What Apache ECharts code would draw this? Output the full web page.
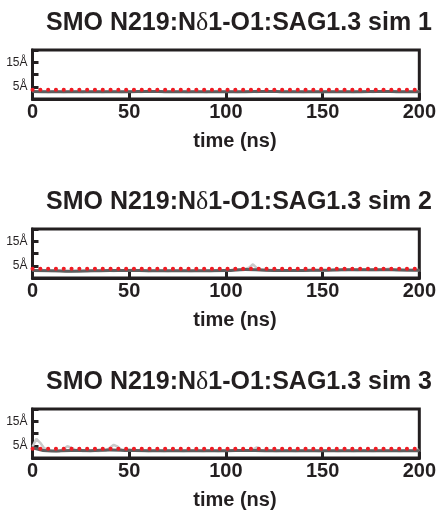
<!DOCTYPE html>
<html><head><meta charset="utf-8">
<script src="https://cdn.jsdelivr.net/npm/echarts@6/dist/echarts.min.js"></script>
<style>html,body{margin:0;padding:0;background:#fff}#c{width:439px;height:521px}</style>
</head><body><div id="c"></div>
<script>
const titles = ['sim 1', 'sim 2', 'sim 3'];
const xTicks = [0, 50, 100, 150, 200];
const yLabelTicks = [5, 15];
const threshold = 3.8;
const rawTime = [0,2,4,6,8,10,12,14,16,18,20,22,24,26,28,30,32,34,36,38,40,42,44,46,48,50,52,54,56,58,60,62,64,66,68,70,72,74,76,78,80,82,84,86,88,90,92,94,96,98,100,102,104,106,108,110,112,114,116,118,120,122,124,126,128,130,132,134,136,138,140,142,144,146,148,150,152,154,156,158,160,162,164,166,168,170,172,174,176,178,180,182,184,186,188,190,192,194,196,198,200];
const smoothTime = [0,10,20,30,40,50,60,70,80,90,100,110,120,130,140,150,160,170,180,190,200];
const sim1Raw = [3.3,3.1,3.0,3.1,2.9,3.0,3.1,3.0,2.9,3.0,
 3.1,3.0,3.0,2.9,3.1,3.0,3.0,3.1,2.9,3.0,
 3.0,3.1,3.0,2.9,3.0,3.1,3.0,3.0,2.9,3.0,
 3.1,3.0,3.0,3.1,2.9,3.0,3.0,3.1,3.0,3.0,
 2.9,3.0,3.1,3.0,3.0,2.9,3.1,3.0,3.0,3.0,
 3.0,3.1,3.0,2.9,3.0,3.1,3.0,3.0,2.9,3.0,
 3.1,3.0,3.0,3.1,2.9,3.0,3.0,3.1,3.0,3.0,
 2.9,3.0,3.1,3.0,3.0,2.9,3.1,3.0,3.0,3.0,
 3.0,3.1,3.0,2.9,3.0,3.1,3.0,3.0,2.9,3.0,
 3.1,3.0,3.0,3.1,2.9,3.0,3.0,3.1,3.0,3.0,
 3.2];
const sim1Smooth = [3.1,3.0,3.0,2.95,3.0,3.0,3.05,3.0,3.0,2.95,3.0,3.0,3.05,3.0,2.95,3.0,3.0,3.0,3.05,3.0,3.0];
const sim2Raw = [3.2,3.1,3.0,3.1,3.0,2.9,3.0,3.0,2.9,2.8,
 2.8,2.7,2.7,2.8,2.8,2.9,3.0,3.0,3.1,3.0,
 3.0,2.9,3.0,3.1,3.0,3.2,3.5,3.2,3.0,3.0,
 2.9,3.0,3.0,3.1,3.0,2.9,3.0,3.0,3.0,3.1,
 3.0,2.9,3.0,3.0,3.1,3.0,2.9,3.0,3.0,3.1,
 3.0,3.1,3.2,3.3,3.5,3.7,4.2,5.6,4.0,3.6,
 3.4,3.2,3.1,3.0,3.1,3.0,3.0,3.1,3.0,3.0,
 3.1,3.0,3.1,3.2,3.1,3.2,3.1,3.2,3.3,3.2,
 3.4,3.3,3.5,3.4,3.3,3.4,3.5,3.3,3.4,3.3,
 3.4,3.5,3.8,3.6,3.3,3.4,3.2,3.1,3.2,3.1,
 3.3];
const sim2Smooth = [3.1,3.0,2.8,2.95,3.05,3.1,3.0,3.0,3.0,3.0,3.05,3.5,3.15,3.05,3.1,3.15,3.35,3.4,3.4,3.3,3.2];
const sim3Raw = [4.6,7.8,6.2,4.0,3.3,3.0,2.8,2.8,3.6,4.8,
 4.2,3.4,3.0,2.9,3.0,3.1,3.0,2.9,3.0,3.1,
 4.2,5.4,4.6,3.4,3.2,3.6,3.3,3.0,3.1,3.0,
 2.9,3.0,3.1,3.0,2.9,3.0,3.0,3.1,3.0,2.9,
 3.0,3.1,3.0,3.0,2.9,3.0,3.1,3.0,2.9,3.0,
 3.0,3.1,3.0,3.2,3.1,3.0,3.2,3.4,4.4,3.2,
 3.0,3.1,3.0,2.9,3.0,3.0,3.1,3.0,2.9,3.0,
 3.0,3.1,3.0,3.0,2.9,3.0,3.1,3.0,3.0,2.9,
 3.0,3.1,3.0,2.9,3.0,3.0,3.1,3.0,2.9,3.0,
 3.1,3.0,3.0,3.2,3.0,2.9,3.0,3.1,3.0,3.0,
 3.4];
const sim3Smooth = [4.2,2.85,3.1,3.0,3.3,3.1,3.0,3.0,3.0,3.0,3.0,3.1,3.0,3.0,3.0,2.95,3.0,3.0,3.0,3.0,3.0];
const rawSets = [sim1Raw, sim2Raw, sim3Raw];
const smoothSets = [sim1Smooth, sim2Smooth, sim3Smooth];

const ink = '#231f20';
const tops = [50, 229, 409];
const gridH = 49;
const chart = echarts.init(document.getElementById('c'));
const pair = (t, v) => t.map((x, i) => [x, v[i]]);
const option = {
  animation: false,
  title: titles.map((s, i) => ({
    text: '{b|SMO N219:N}{d|δ}{b|1-O1:SAG1.3 ' + s + '}',
    right: 7, top: tops[i] - 40, padding: 0,
    textStyle: {rich: {
      b: {fontFamily: 'Liberation Sans', fontWeight: 'bold', fontSize: 25, color: ink},
      d: {fontFamily: 'Liberation Serif', fontWeight: 'normal', fontSize: 26, color: ink}
    }}
  })),
  grid: tops.map(t => ({left: 32.5, right: 16, top: t, height: gridH, show: true, borderColor: ink, borderWidth: 3, backgroundColor: 'transparent'})),
  xAxis: tops.map((t, i) => ({
    type: 'value', gridIndex: i, min: 0, max: 200, interval: 50,
    name: 'time (ns)', nameLocation: 'middle', nameGap: 32,
    nameTextStyle: {fontFamily: 'Liberation Sans', fontWeight: 'bold', fontSize: 20, color: ink, padding: [0, 0, 0, 18]},
    axisLine: {lineStyle: {color: ink, width: 3}},
    axisTick: {inside: true, length: 6, lineStyle: {color: ink, width: 3}},
    axisLabel: {fontFamily: 'Liberation Sans', fontWeight: 'bold', fontSize: 20, color: ink, margin: 3,
      formatter: v => xTicks.includes(v) ? String(v) : ''},
    splitLine: {show: false}
  })),
  yAxis: tops.map((t, i) => ({
    type: 'value', gridIndex: i, min: 0, max: 20, interval: 5,
    axisLine: {show: true, lineStyle: {color: ink, width: 3}},
    axisTick: {show: true, inside: true, length: 6, lineStyle: {color: ink, width: 3}},
    axisLabel: {fontFamily: 'Liberation Sans', fontSize: 12, color: ink, margin: 5,
      formatter: v => yLabelTicks.includes(v) ? v + 'Å' : ''},
    splitLine: {show: false}
  })),
  series: []
};
for (let i = 0; i < 3; i++) {
  option.series.push({type: 'line', xAxisIndex: i, yAxisIndex: i, data: pair(rawTime, rawSets[i]), showSymbol: false, symbol: 'none',
    lineStyle: {color: '#c9c9c9', width: 2.5}, z: 2});
  option.series.push({type: 'line', xAxisIndex: i, yAxisIndex: i, data: pair(smoothTime, smoothSets[i]), showSymbol: false, symbol: 'none', smooth: true,
    lineStyle: {color: '#5e5e5e', width: 3}, z: 3});
  option.series.push({type: 'line', xAxisIndex: i, yAxisIndex: i, data: [[0, threshold], [200, threshold]], showSymbol: false, symbol: 'none',
    lineStyle: {color: '#ee1c24', width: 4, type: [0.1, 7.7], cap: 'round'}, z: 4});
}
chart.setOption(option);
</script></body></html>
